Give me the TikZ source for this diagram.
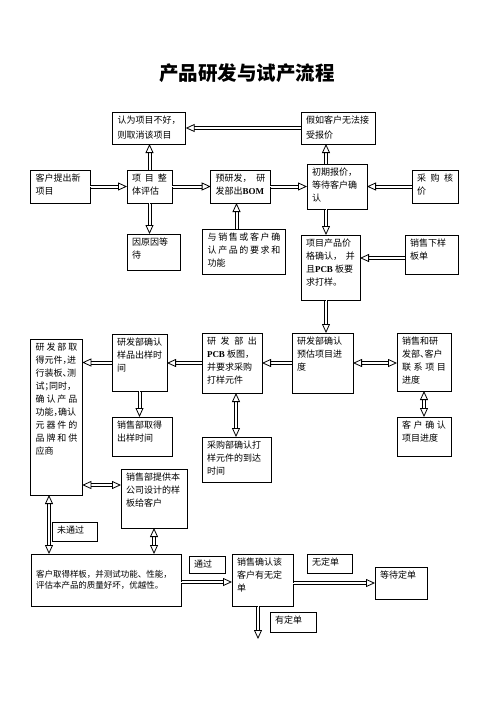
\documentclass[tikz,border=0pt]{standalone}
\usepackage{fontspec}
\setmainfont{Liberation Serif}
\newfontfamily\zhfont{Noto Sans CJK SC}
\usetikzlibrary{arrows.meta}
\newcommand\spr[1]{\makebox[\linewidth][s]{#1}}
\newcommand\hp[1]{\makebox[4.5pt][l]{#1}}
\newcommand\lat[1]{{\rmfamily\bfseries #1}}
\newcommand\bx[7]{%
  \node[bx,#6,anchor=north west] (#1) at (#2,#3)
  {\parbox[c][\dimexpr#5pt-#3pt-8pt\relax][t]{\dimexpr#4pt-#2pt-10pt\relax}{\raggedright #7}};}
\tikzset{
  bx/.style={draw, line width=0.8pt, inner xsep=5pt, inner ysep=4pt, outer sep=0pt,
    font=\zhfont\fontsize{9}{13}\selectfont},
  lfift/.style={font=\zhfont\fontsize{9}{15}\selectfont},
  hd/.tip={Triangle[open, length=9pt, width=8pt, color=black, line width=0.8pt]},
  sh/.style={draw=black, arrows=-, line width=0.8pt},
  hdbl/.style={draw=white, line width=0.2pt, -{hd},
    preaction={sh, shorten >=8.6pt, transform canvas={yshift=1.5pt}},
    preaction={sh, shorten >=8.6pt, transform canvas={yshift=-1.5pt}}},
  vdbl/.style={draw=white, line width=0.2pt, -{hd},
    preaction={sh, shorten >=8.6pt, transform canvas={xshift=1.5pt}},
    preaction={sh, shorten >=8.6pt, transform canvas={xshift=-1.5pt}}},
  hdbltwo/.style={draw=white, line width=0.2pt, {hd}-{hd},
    preaction={sh, shorten >=8.6pt, shorten <=8.6pt, transform canvas={yshift=1.5pt}},
    preaction={sh, shorten >=8.6pt, shorten <=8.6pt, transform canvas={yshift=-1.5pt}}},
  vdbltwo/.style={draw=white, line width=0.2pt, {hd}-{hd},
    preaction={sh, shorten >=8.6pt, shorten <=8.6pt, transform canvas={xshift=1.5pt}},
    preaction={sh, shorten >=8.6pt, shorten <=8.6pt, transform canvas={xshift=-1.5pt}}},
}
\begin{document}
\begin{tikzpicture}[x=1pt,y=-1pt]
\useasboundingbox (0,0) rectangle (496,702);
\node[font=\zhfont\bfseries\fontsize{19.5}{20}\selectfont] (title) at (247,73.5) {产品研发与试产流程};

\bx{qx}{112.7}{112}{185.7}{144}{lfift}{认为项目不好，\\则取消该项目}
\bx{jr}{301}{112}{375.7}{144}{lfift}{假如客户无法接\\受报价}
\bx{kh}{30.7}{170}{90.3}{203}{}{客户提出新\\项目}
\bx{pg}{127}{170}{172}{203}{}{\spr{项 目 整}\\体评估}
\bx{yy}{210.7}{170}{270.3}{203}{}{\spr{预研发， 研}\\发部出\lat{BOM}}
\bx{cb}{307}{164}{367}{209}{}{初期报价，\\等待客户确\\认}
\bx{cg}{412}{170}{458}{203}{}{\spr{采 购 核}\\价}
\bx{dd}{127}{234}{180}{270}{}{因原因等\\待}
\bx{yq}{202.7}{229}{285.3}{274}{}{\spr{与 销 售 或 客 户 确}\\\spr{认 产 品 的 要 求 和}\\功能}
\bx{jg}{301}{235}{360}{300}{}{项目产品价\\\spr{格确认， 并}\\且\lat{PCB} 板要\\求打样。}
\bx{xx}{405}{235}{458}{274}{}{销售下样\\板单}

\bx{qd}{30.7}{339}{82.3}{495}{}{\spr{研 发 部 取}\\得元件\hp{，}进\\行装板\hp{、}测\\试\hp{；}同时\hp{，}\\\spr{确 认 产 品}\\功能\hp{，}确认\\\spr{元 器 件 的}\\\spr{品 牌 和 供}\\应商}
\bx{yqt}{112}{334}{167}{391}{}{研发部确认\\样品出样时\\间}
\bx{xq}{112}{417}{172}{456}{}{销售部取得\\出样时间}
\bx{pcb}{202}{333}{262}{393}{}{\spr{研 发 部 出}\\\lat{PCB} 板图，\\并要求采购\\打样元件}
\bx{yg}{292}{333}{353}{393}{}{研发部确认\\预估项目进\\度}
\bx{xy}{397}{333}{451}{391}{}{销售和研\\发部\hp{、}客户\\\spr{联 系 项 目}\\进度}
\bx{kq}{397}{417}{451}{456}{}{\spr{客 户 确 认}\\项目进度}
\bx{cgb}{202}{437}{271}{482}{}{采购部确认打\\样元件的到达\\时间}
\bx{tg}{121}{469}{187}{528}{}{销售部提供本\\公司设计的样\\板给客户}
\bx{wtg}{52}{522}{97}{541}{}{未通过}

\node[bx, anchor=north west, font=\zhfont\fontsize{8.5}{10.5}\selectfont] (kt) at (31,554)
  {\parbox[c][44pt][c]{140pt}{\raggedright 客户取得样板，并测试功能、性能，\\评估本产品的质量好坏，优越性。}};
\bx{tgo}{189}{556}{225}{573}{}{通过}
\bx{xs}{232}{554}{293}{606}{}{销售确认该\\客户有无定\\单}
\bx{wdd}{307}{554}{352}{573}{}{无定单}
\bx{ddd}{375}{567}{427}{599}{}{等待定单}
\bx{ydd}{270}{612}{316}{632}{}{有定单}
\coordinate (endd) at (258,639);

\draw[hdbl] (kh) -- (pg);
\draw[vdbl] (pg.north) -- (pg.north |- qx.south);
\draw[vdbl] (pg.south) -- (pg.south |- dd.north);
\draw[hdbl] (pg) -- (yy);
\draw[vdbl] ([xshift=-4pt]yy.south |- yq.north) -- ([xshift=-4pt]yy.south);
\draw[hdbl] (yy) -- (cb);
\draw[hdbl] (cg) -- (cb);
\draw[vdbl] ([xshift=-11pt]cb.north) -- ([xshift=-11pt]cb.north |- jr.south);
\draw[hdbl] (jr) -- (qx);
\draw[vdbl] ([xshift=-11pt]cb.south) -- ([xshift=-11pt]cb.south |- jg.north);
\draw[hdbl] ([yshift=-3.5pt]xx.west) -- ([yshift=-3.5pt]xx.west -| jg.east);
\draw[vdbl] ([xshift=-4.5pt]jg.south) -- ([xshift=-4.5pt]jg.south |- yg.north);
\draw[hdbl] (yg) -- (pcb);
\draw[hdbl] (pcb.west) -- (pcb.west -| yqt.east);
\draw[hdbl] (yqt.west) -- (yqt.west -| qd.east);
\draw[vdbl] (yqt.south) -- (yqt.south |- xq.north);
\draw[vdbltwo] ([xshift=4pt]pcb.south) -- ([xshift=4pt]pcb.south |- cgb.north);
\draw[hdbltwo] (yg.east) -- (yg.east -| xy.west);
\draw[vdbltwo] (xy.south) -- (xy.south |- kq.north);
\draw[hdbltwo] ([yshift=13.5pt]tg.west) -- ([yshift=13.5pt]tg.west -| qd.east);
\draw[vdbltwo] ([xshift=-7.5pt]qd.south) -- ([xshift=-7.5pt]qd.south |- kt.north);
\draw[vdbltwo] (tg.south) -- (tg.south |- kt.north);
\draw[hdbl] ([yshift=-2pt]kt.east) -- ([yshift=-2pt]kt.east -| xs.west);
\draw[hdbl] (xs.east |- ddd.west) -- (ddd.west);
\draw[vdbl] ([xshift=-4.5pt]xs.south) -- (endd);
\end{tikzpicture}
\end{document}
